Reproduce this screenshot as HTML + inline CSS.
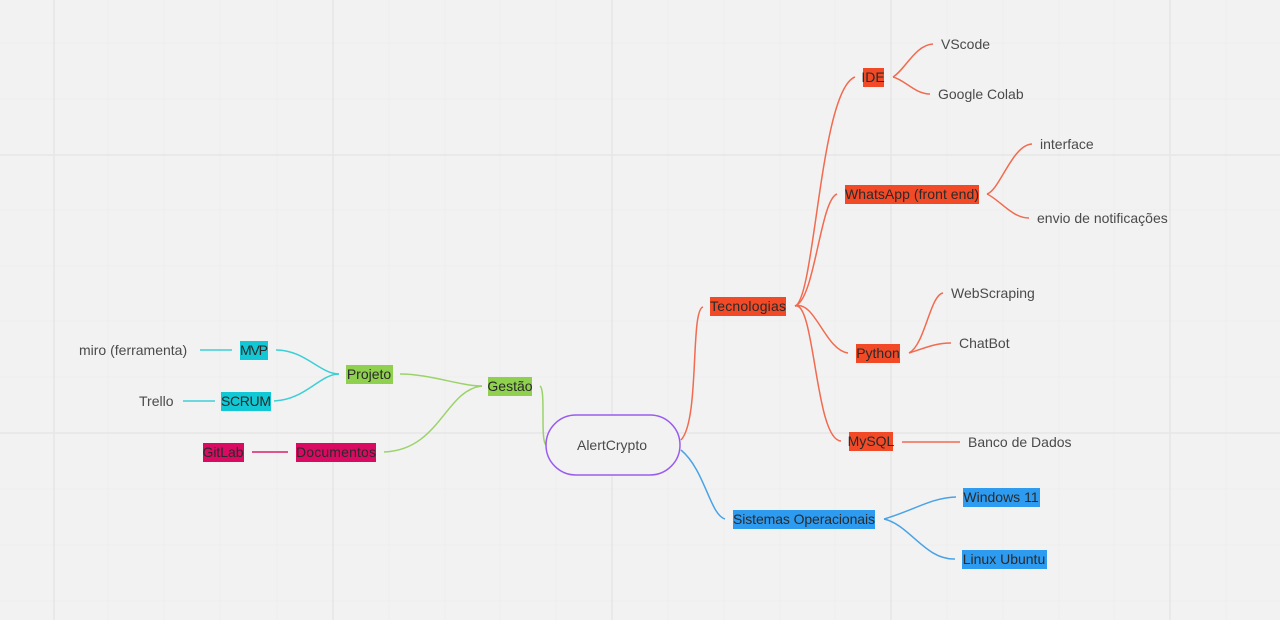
<!DOCTYPE html>
<html><head><meta charset="utf-8"><style>
html,body{margin:0;padding:0;background:#f2f2f2;}
svg{display:block;}
text{font-family:"Liberation Sans","DejaVu Sans",sans-serif;font-size:14px;}
.t{fill:#4a4a4a;}
.b{fill:#2a2a2a;}
</style></head><body>
<svg width="1280" height="620" viewBox="0 0 1280 620" xmlns="http://www.w3.org/2000/svg">
<rect width="1280" height="620" fill="#f2f2f2"/>
<g stroke="#eeeeee" stroke-width="1">
<line x1="108" y1="0" x2="108" y2="620"/><line x1="164" y1="0" x2="164" y2="620"/><line x1="220" y1="0" x2="220" y2="620"/><line x1="277" y1="0" x2="277" y2="620"/>
<line x1="389" y1="0" x2="389" y2="620"/><line x1="445" y1="0" x2="445" y2="620"/><line x1="500" y1="0" x2="500" y2="620"/><line x1="556" y1="0" x2="556" y2="620"/>
<line x1="668" y1="0" x2="668" y2="620"/><line x1="724" y1="0" x2="724" y2="620"/><line x1="780" y1="0" x2="780" y2="620"/><line x1="835" y1="0" x2="835" y2="620"/>
<line x1="947" y1="0" x2="947" y2="620"/><line x1="1003" y1="0" x2="1003" y2="620"/><line x1="1059" y1="0" x2="1059" y2="620"/><line x1="1114" y1="0" x2="1114" y2="620"/>
<line x1="1226" y1="0" x2="1226" y2="620"/>
<line x1="0" y1="43" x2="1280" y2="43"/><line x1="0" y1="99" x2="1280" y2="99"/><line x1="0" y1="210" x2="1280" y2="210"/><line x1="0" y1="266" x2="1280" y2="266"/><line x1="0" y1="321" x2="1280" y2="321"/><line x1="0" y1="377" x2="1280" y2="377"/><line x1="0" y1="489" x2="1280" y2="489"/><line x1="0" y1="545" x2="1280" y2="545"/><line x1="0" y1="601" x2="1280" y2="601"/>
</g>
<g stroke="#e6e6e6" stroke-width="1.5">
<line x1="54" y1="0" x2="54" y2="620"/><line x1="333" y1="0" x2="333" y2="620"/><line x1="612" y1="0" x2="612" y2="620"/><line x1="891" y1="0" x2="891" y2="620"/><line x1="1170" y1="0" x2="1170" y2="620"/>
<line x1="0" y1="155" x2="1280" y2="155"/><line x1="0" y1="433" x2="1280" y2="433"/>
</g>
<g fill="none" stroke-width="1.5">
<g stroke="#f26a4f">
<path d="M681 440 C700 420,690 310,703 307"/>
<path d="M795 306 C815 300,820 90,855 77"/>
<path d="M795 306 C815 300,820 200,837 194"/>
<path d="M795 306 C815 300,825 350,848 353"/>
<path d="M795 306 C815 300,815 440,841 441"/>
<path d="M893 77 C905 70,915 45,933 44"/>
<path d="M893 77 C905 80,915 94,930 94"/>
<path d="M987 194 C1000 190,1012 145,1032 144"/>
<path d="M987 194 C1000 200,1012 218,1029 218"/>
<path d="M909 353 C925 345,930 295,943 293"/>
<path d="M909 353 C925 348,935 343,951 343"/>
<path d="M902 442 L960 442"/>
</g>
<g stroke="#4aa3e6">
<path d="M681 450 C705 470,710 515,725 519"/>
<path d="M884 519 C915 510,930 498,956 497"/>
<path d="M884 519 C910 525,925 560,955 559"/>
</g>
<g stroke="#9bd36a">
<path d="M540 386 C546 390,540 440,546 445"/>
<path d="M482 386 C460 386,430 374,400 374"/>
<path d="M482 386 C445 390,440 450,384 452"/>
</g>
<g stroke="#3ccfd6">
<path d="M339 374 C320 374,305 350,276 350"/>
<path d="M339 374 C320 374,305 400,274 401"/>
<path d="M200 350 L232 350"/>
<path d="M183 401 L215 401"/>
</g>
<path stroke="#da1f6a" d="M252 452 L288 452"/>
</g>
<rect x="546" y="415" width="134" height="60" rx="30" fill="#f2f2f2" stroke="#9a5cf0" stroke-width="1.5"/>
<text x="612" y="450" text-anchor="middle" class="t">AlertCrypto</text>
<g fill="#f24a26">
<rect x="710" y="297" width="76" height="19"/>
<rect x="863" y="68" width="21" height="19"/>
<rect x="845" y="185" width="134" height="19"/>
<rect x="856" y="344" width="44" height="19"/>
<rect x="849" y="432" width="44" height="19"/>
</g>
<text x="748" y="311" text-anchor="middle" class="b" textLength="76">Tecnologias</text>
<text x="873" y="82" text-anchor="middle" class="b">IDE</text>
<text x="912" y="199" text-anchor="middle" class="b" textLength="134">WhatsApp (front end)</text>
<text x="878" y="358" text-anchor="middle" class="b">Python</text>
<text x="871" y="446" text-anchor="middle" class="b">MySQL</text>
<g fill="#2d9bf0">
<rect x="733" y="510" width="142" height="19"/>
<rect x="963" y="488" width="77" height="19"/>
<rect x="962" y="550" width="85" height="19"/>
</g>
<text x="804" y="524" text-anchor="middle" class="b" textLength="142">Sistemas Operacionais</text>
<text x="1001" y="502" text-anchor="middle" class="b">Windows 11</text>
<text x="1004" y="564" text-anchor="middle" class="b">Linux Ubuntu</text>
<g fill="#8fd14f">
<rect x="488" y="377" width="44" height="19"/>
<rect x="346" y="365" width="47" height="19"/>
</g>
<text x="510" y="391" text-anchor="middle" class="b">Gestão</text>
<text x="369" y="379" text-anchor="middle" class="b">Projeto</text>
<g fill="#12c8d4">
<rect x="240" y="341" width="28" height="19"/>
<rect x="221" y="392" width="50" height="19"/>
</g>
<text x="254" y="355" text-anchor="middle" class="b" textLength="28">MVP</text>
<text x="246" y="406" text-anchor="middle" class="b" textLength="50">SCRUM</text>
<g fill="#da0a63">
<rect x="296" y="443" width="80" height="19"/>
<rect x="203" y="443" width="41" height="19"/>
</g>
<text x="336" y="457" text-anchor="middle" class="b" textLength="80">Documentos</text>
<text x="223" y="457" text-anchor="middle" class="b" textLength="41">GitLab</text>
<text x="941" y="49" class="t">VScode</text>
<text x="938" y="99" class="t">Google Colab</text>
<text x="1040" y="149" class="t">interface</text>
<text x="1037" y="223" class="t">envio de notificações</text>
<text x="951" y="298" class="t">WebScraping</text>
<text x="959" y="348" class="t">ChatBot</text>
<text x="968" y="447" class="t">Banco de Dados</text>
<text x="79" y="355" class="t">miro (ferramenta)</text>
<text x="139" y="406" class="t">Trello</text>
</svg>
</body></html>
